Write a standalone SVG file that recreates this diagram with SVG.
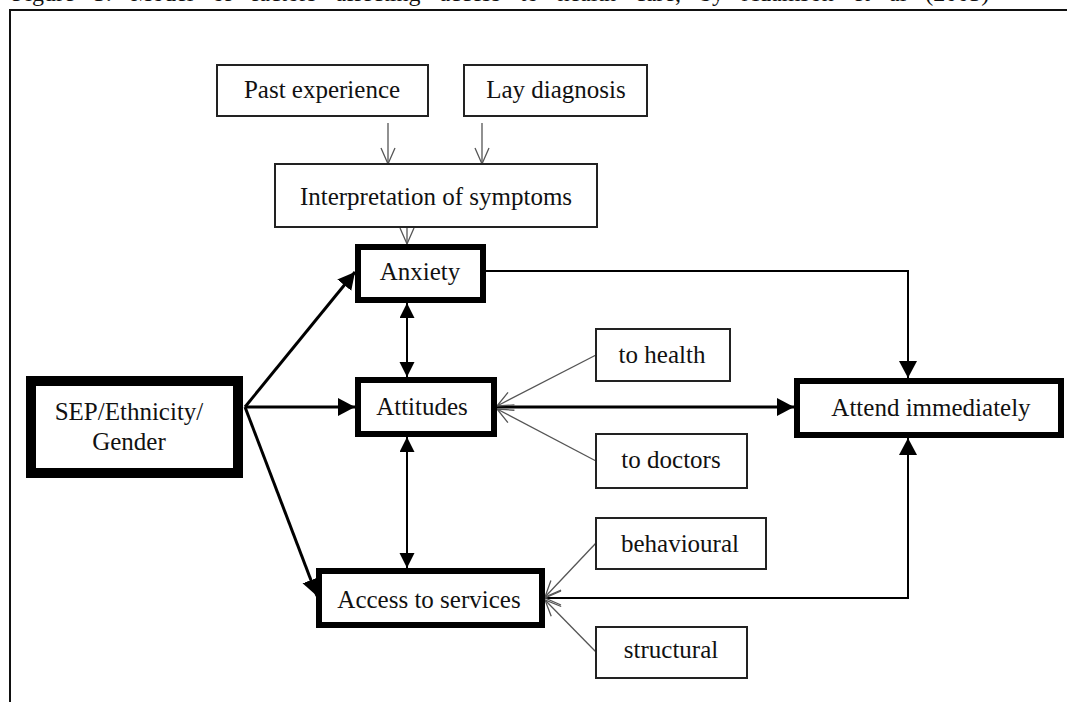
<svg xmlns="http://www.w3.org/2000/svg" width="1067" height="702" viewBox="0 0 1067 702">
  <style>
    text { font-family: "Liberation Serif", "Times New Roman", serif; font-size: 25px; fill: #111; text-anchor: middle; }
    .caption { font-size: 24px; text-anchor: start; word-spacing: 13px; }
    .thin { fill: #fff; stroke: #222; stroke-width: 2; }
    .bold { fill: #fff; stroke: #000; stroke-width: 6; }
    .heavy { fill: #fff; stroke: #000; stroke-width: 10; }
    .main { fill: none; stroke: #000; stroke-width: 3; }
    .link { fill: none; stroke: #000; stroke-width: 2; }
    .feed { fill: none; stroke: #555; stroke-width: 1.3; }
  </style>
  <defs>
    <marker id="solid" markerUnits="userSpaceOnUse" markerWidth="18" markerHeight="20" refX="17" refY="9" orient="auto-start-reverse" viewBox="0 0 18 20">
      <path d="M0,0 L17,9 L0,18 z" fill="#000"/>
    </marker>
    <marker id="solidSmall" markerUnits="userSpaceOnUse" markerWidth="16" markerHeight="16" refX="15" refY="7.5" orient="auto-start-reverse" viewBox="0 0 16 16">
      <path d="M0,0 L15,7.5 L0,15 z" fill="#000"/>
    </marker>
    <marker id="open" markerUnits="userSpaceOnUse" markerWidth="20" markerHeight="18" refX="17" refY="8" orient="auto-start-reverse" viewBox="0 0 20 18">
      <path d="M1,1 L17,8 L1,15" fill="none" stroke="#555" stroke-width="1.3"/>
    </marker>
  </defs>

  <rect width="1067" height="702" fill="#fff"/>

  <!-- caption line, mostly above the page top -->
  <text class="caption" x="12" y="1">Figure 3. Model of factors affecting access to health care, by Adamson et al (2003)</text>

  <!-- figure frame -->
  <path d="M10,702 L10,10 L1067,10" fill="none" stroke="#111" stroke-width="2"/>

  <g id="connectors">
    <line class="feed" x1="388" y1="123" x2="388" y2="164" marker-end="url(#open)"/>
    <line class="feed" x1="482" y1="123" x2="482" y2="164" marker-end="url(#open)"/>
    <line class="feed" x1="407" y1="228" x2="407" y2="244" marker-end="url(#open)"/>

    <line class="main" x1="245" y1="407" x2="355" y2="272" marker-end="url(#solid)"/>
    <line class="main" x1="245" y1="407" x2="355" y2="407" marker-end="url(#solid)"/>
    <line class="main" x1="245" y1="407" x2="317" y2="596" marker-end="url(#solid)"/>

    <line class="link" x1="407" y1="303" x2="407" y2="377" marker-start="url(#solidSmall)" marker-end="url(#solidSmall)"/>
    <line class="link" x1="407" y1="437" x2="407" y2="568" marker-start="url(#solidSmall)" marker-end="url(#solidSmall)"/>

    <line class="main" x1="497" y1="407" x2="794" y2="407" marker-end="url(#solid)"/>
    <polyline class="link" points="486,271 908,271 908,378" marker-end="url(#solid)"/>
    <polyline class="link" points="545,598 908,598 908,438" marker-start="url(#open)" marker-end="url(#solid)"/>

    <line class="feed" x1="596" y1="355" x2="497" y2="406" marker-end="url(#open)"/>
    <line class="feed" x1="596" y1="461" x2="497" y2="409" marker-end="url(#open)"/>
    <line class="feed" x1="596" y1="543" x2="545" y2="597" marker-end="url(#open)"/>
    <line class="feed" x1="596" y1="652" x2="545" y2="600" marker-end="url(#open)"/>
  </g>

  <g id="past-experience">
    <rect class="thin" x="217" y="65" width="211" height="51"/>
    <text x="322" y="98">Past experience</text>
  </g>
  <g id="lay-diagnosis">
    <rect class="thin" x="464" y="65" width="183" height="51"/>
    <text x="556" y="98">Lay diagnosis</text>
  </g>
  <g id="interpretation">
    <rect class="thin" x="275" y="164" width="322" height="63"/>
    <text x="436" y="205">Interpretation of symptoms</text>
  </g>
  <g id="anxiety">
    <rect class="bold" x="358" y="247" width="125" height="53"/>
    <text x="420" y="280">Anxiety</text>
  </g>
  <g id="attitudes">
    <rect class="bold" x="358" y="380" width="136" height="54"/>
    <text x="422" y="415">Attitudes</text>
  </g>
  <g id="access">
    <rect class="bold" x="319" y="571" width="223" height="54"/>
    <text x="429" y="608">Access to services</text>
  </g>
  <g id="sep">
    <rect class="heavy" x="31" y="381" width="207" height="92"/>
    <text x="129" y="420">SEP/Ethnicity/</text>
    <text x="129" y="450">Gender</text>
  </g>
  <g id="attend">
    <rect class="bold" x="797" y="381" width="264" height="54"/>
    <text x="931" y="416">Attend immediately</text>
  </g>
  <g id="to-health">
    <rect class="thin" x="596" y="329" width="134" height="52"/>
    <text x="662" y="363">to health</text>
  </g>
  <g id="to-doctors">
    <rect class="thin" x="596" y="434" width="151" height="54"/>
    <text x="671" y="468">to doctors</text>
  </g>
  <g id="behavioural">
    <rect class="thin" x="596" y="518" width="170" height="51"/>
    <text x="680" y="552">behavioural</text>
  </g>
  <g id="structural">
    <rect class="thin" x="596" y="627" width="151" height="51"/>
    <text x="671" y="658">structural</text>
  </g>
</svg>
